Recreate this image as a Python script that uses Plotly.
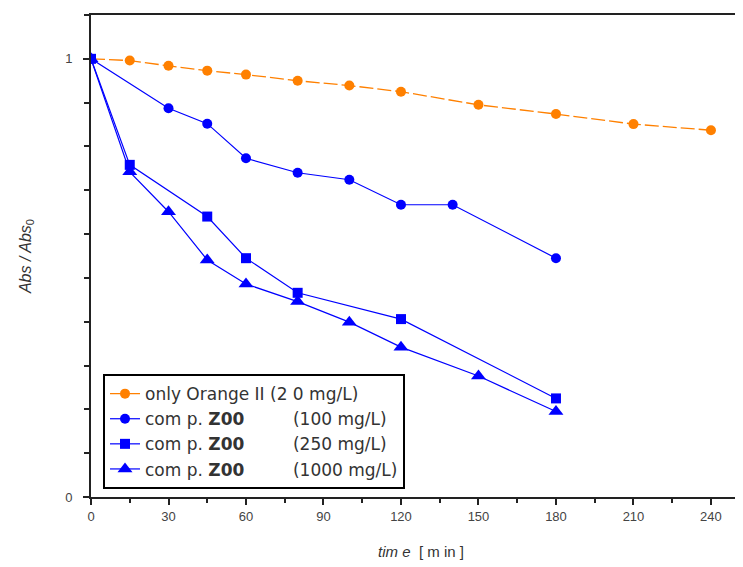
import plotly.graph_objects as go

# time [min]
t_orange = [0, 15, 30, 45, 60, 80, 100, 120, 150, 180, 210, 240]
y_orange = [1.0, 0.996, 0.984, 0.973, 0.964, 0.950, 0.939, 0.925, 0.895, 0.874, 0.851, 0.837]

t_100 = [0, 30, 45, 60, 80, 100, 120, 140, 180]
y_100 = [1.0, 0.887, 0.852, 0.773, 0.740, 0.724, 0.667, 0.667, 0.545]

t_250 = [0, 15, 45, 60, 80, 120, 180]
y_250 = [1.0, 0.758, 0.640, 0.545, 0.466, 0.406, 0.225]

t_1000 = [0, 15, 30, 45, 60, 80, 100, 120, 150, 180]
y_1000 = [1.0, 0.742, 0.651, 0.541, 0.486, 0.446, 0.399, 0.342, 0.276, 0.195]

pad = "\u00a0" * 9
names = [
    "only\u00a0Orange II (2\u00a00 mg/L)",
    "com\u00a0p. <b>Z00</b>" + pad + "(100 mg/L)",
    "com\u00a0p. <b>Z00</b>" + pad + "(250 mg/L)",
    "com\u00a0p. <b>Z00</b>" + pad + "(1000 mg/L)",
]

ORANGE = "#FF8000"
BLUE = "#0000FF"

fig = go.Figure()
fig.add_trace(go.Scatter(x=t_orange, y=y_orange, name=names[0], mode="lines+markers",
                         line=dict(color=ORANGE, width=1.3, dash="14px,4px"),
                         marker=dict(symbol="circle", size=10, color=ORANGE)))
fig.add_trace(go.Scatter(x=t_100, y=y_100, name=names[1], mode="lines+markers",
                         line=dict(color=BLUE, width=1.2),
                         marker=dict(symbol="circle", size=10, color=BLUE)))
fig.add_trace(go.Scatter(x=t_250, y=y_250, name=names[2], mode="lines+markers",
                         line=dict(color=BLUE, width=1.2),
                         marker=dict(symbol="square", size=10, color=BLUE)))
fig.add_trace(go.Scatter(x=t_1000, y=y_1000, name=names[3], mode="lines+markers",
                         line=dict(color=BLUE, width=1.2),
                         marker=dict(symbol="triangle-up", size=13, color=BLUE)))

tickfont = dict(family="Liberation Sans Narrow, Arial Narrow, Liberation Sans, Arial", size=13, color="#444")

# the page body adds an 8px offset, compensated in the margins
fig.update_layout(
    width=743, height=567,
    margin=dict(l=83, r=0, t=7, b=78),
    paper_bgcolor="white", plot_bgcolor="white",
    showlegend=True,
    legend=dict(x=0.0182, y=0.255, xanchor="left", yanchor="top",
                bordercolor="black", borderwidth=2, bgcolor="white",
                font=dict(family="DejaVu Sans, Liberation Sans, Arial", size=17, color="#333"),
                tracegroupgap=0, itemwidth=30),
    xaxis=dict(range=[0, 255.5], tick0=0, dtick=30, showgrid=False, zeroline=False,
               automargin=False,
               showline=True, linecolor="#222", linewidth=2, mirror=True,
               ticks="outside", ticklen=6, tickwidth=1.5, tickcolor="#222",
               minor=dict(dtick=15, ticks="outside", ticklen=4, tickwidth=1.5, tickcolor="#222"),
               tickfont=tickfont,
               title=dict(text="<i>tim e</i>  [ m in ]", standoff=24,
                          font=dict(family="Liberation Sans Narrow, Arial Narrow, Liberation Sans", size=15, color="#333"))),
    yaxis=dict(range=[0, 1.1], tick0=0, dtick=1, showgrid=False, zeroline=False,
               automargin=False,
               showline=True, linecolor="#222", linewidth=2,
               ticks="outside", ticklen=6, tickwidth=1.5, tickcolor="#222",
               minor=dict(dtick=0.1, ticks="outside", ticklen=5, tickwidth=1.5, tickcolor="#222"),
               tickfont=tickfont, ticklabelstandoff=8,
               title=dict(text="<i>Abs / Abs</i><sub>0</sub>", standoff=30,
                          font=dict(family="Liberation Sans, Arial", size=16, color="#333"))),
)

fig.write_html("out.html")
